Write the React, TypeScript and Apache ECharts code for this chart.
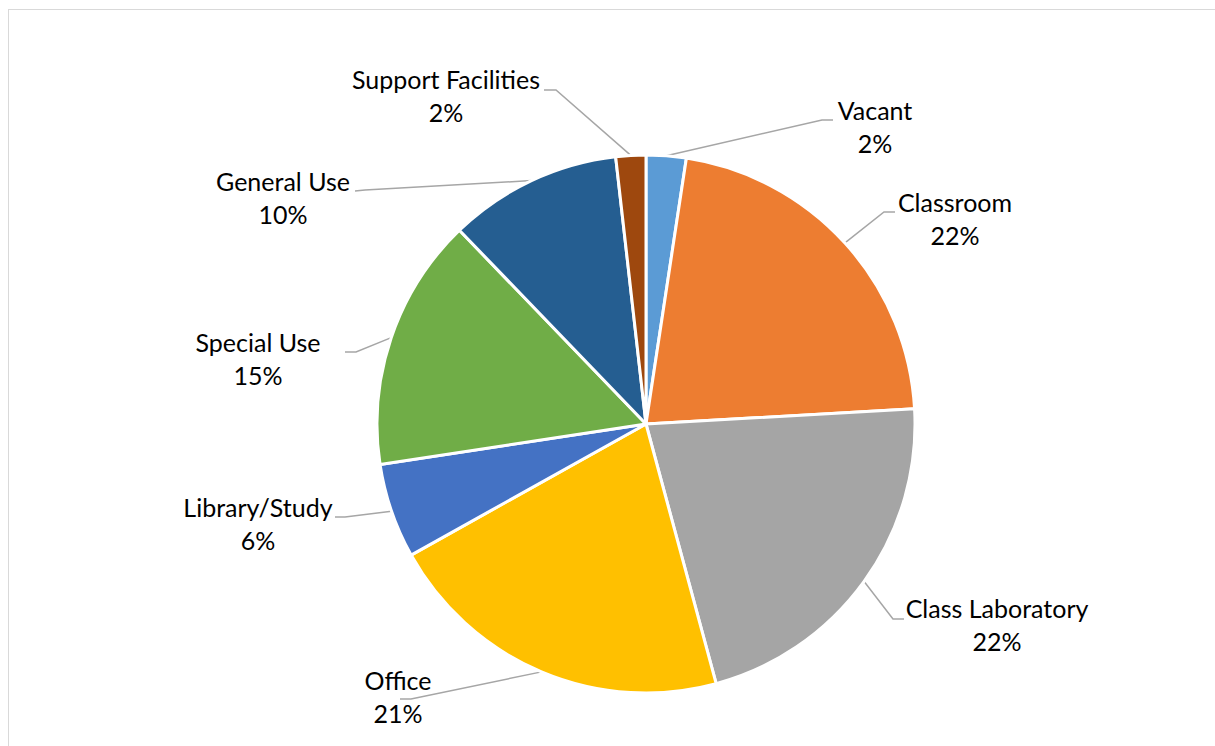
import React, { useEffect, useRef } from "react";
import * as echarts from "echarts";

const categories = [
  "Vacant",
  "Classroom",
  "Class Laboratory",
  "Office",
  "Library/Study",
  "Special Use",
  "General Use",
  "Support Facilities",
];
const shares = [2.4, 21.7, 21.7, 21.1, 5.7, 15.2, 10.4, 1.8];
const colors = ["#5B9BD5", "#ED7D31", "#A5A5A5", "#FFC000", "#4472C4", "#70AD47", "#255E91", "#9E480E"];

// label block centres and leader-line bends (layout only)
const labelPlacement = [
  { x: 875, y: 126, bend: [822, 120], end: [833, 120] },
  { x: 955, y: 218, bend: [884, 212], end: [895, 212] },
  { x: 997, y: 624, bend: [893, 619], end: [904, 619] },
  { x: 398, y: 696, bend: [411, 699], end: [400, 699] },
  { x: 258, y: 523, bend: [345, 517], end: [335, 517] },
  { x: 258, y: 358, bend: [356, 352], end: [345, 352] },
  { x: 283, y: 197, bend: [365, 190], end: [355, 191] },
  { x: 446, y: 95, bend: [556, 90], end: [544, 90] },
];

export default function App() {
  const ref = useRef<HTMLDivElement>(null);
  useEffect(() => {
    if (!ref.current) return;
    const chart = echarts.init(ref.current, undefined, { renderer: "svg" });
    chart.setOption({
      animation: false,
      backgroundColor: "transparent",
      series: [
        {
          type: "pie",
          center: [646, 424],
          radius: [0, 269],
          startAngle: 90,
          clockwise: true,
          avoidLabelOverlap: false,
          percentPrecision: 0,
          data: categories.map((name, i) => ({
            name,
            value: shares[i],
            itemStyle: { color: colors[i] },
          })),
          itemStyle: { borderColor: "#ffffff", borderWidth: 3 },
          label: {
            show: true,
            formatter: "{b}\n{d}%",
            fontFamily: "Lato",
            fontSize: 25,
            lineHeight: 33,
            color: "#000000",
            align: "center",
          },
          labelLine: {
            show: true,
            length: 20,
            length2: 10,
            lineStyle: { color: "#A6A6A6", width: 1.5 },
          },
          labelLayout: (params: any) => {
            const p = labelPlacement[params.dataIndex];
            const pts = params.labelLinePoints;
            const res: any = { x: p.x, y: p.y, align: "center", verticalAlign: "middle" };
            if (pts && pts[0]) {
              res.labelLinePoints = [pts[0], p.bend, p.end];
            }
            return res;
          },
          emphasis: { disabled: true },
        },
      ],
    });
    return () => chart.dispose();
  }, []);

  return (
    <div
      style={{
        position: "fixed",
        left: 0,
        top: 0,
        width: 1215,
        height: 746,
        overflow: "hidden",
        background: "#ffffff",
      }}
    >
      <div
        style={{
          position: "absolute",
          left: 8,
          top: 9,
          width: 1300,
          height: 800,
          border: "1px solid #D9D9D9",
          boxSizing: "border-box",
        }}
      />
      <div ref={ref} style={{ position: "absolute", left: 0, top: 0, width: 1215, height: 746 }} />
    </div>
  );
}
